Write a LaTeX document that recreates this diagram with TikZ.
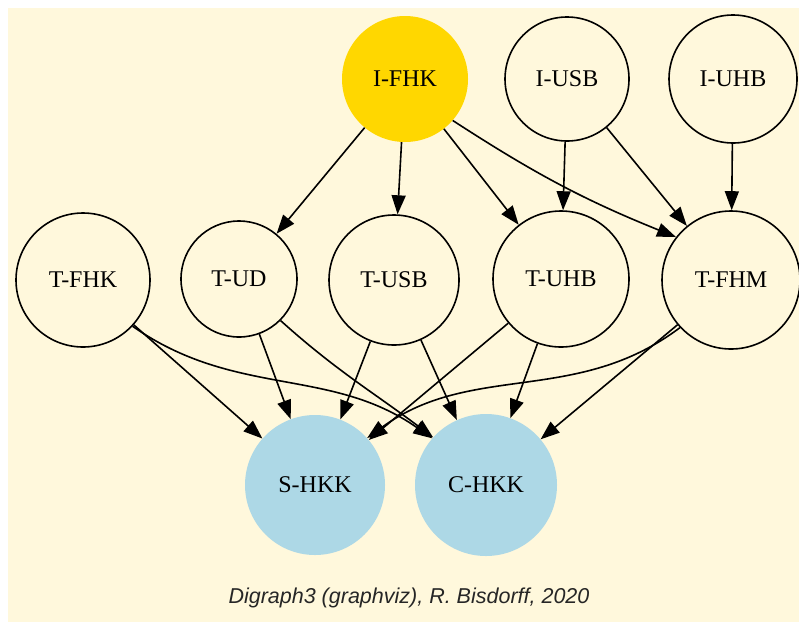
\documentclass[tikz,border=0pt]{standalone}
\usepackage{fontspec}
\setmainfont{Liberation Serif}
\newfontfamily\captionfont{Liberation Sans}
\usetikzlibrary{arrows.meta}
\definecolor{bgcream}{RGB}{255,248,220}
\definecolor{nodegold}{RGB}{255,215,0}
\definecolor{nodeblue}{RGB}{173,216,230}

\begin{document}
\begin{tikzpicture}[x=1pt,y=-1pt,
  vnode/.style={circle, draw=black, line width=1.6pt, inner sep=0pt,
    font=\fontsize{24}{28}\selectfont},
  goldnode/.style={circle, fill=nodegold, inner sep=0pt,
    font=\fontsize{24}{28}\selectfont},
  bluenode/.style={circle, fill=nodeblue, inner sep=0pt,
    font=\fontsize{24}{28}\selectfont},
  link/.style={line width=1.6pt, draw=black,
    -{Triangle[length=19pt,width=14pt]}}
]
% canvas
\useasboundingbox (0,0) rectangle (799,622);
\fill[bgcream] (8,8) rectangle (799,622);

% top row
\node[goldnode, minimum size=126pt] (IFHK) at (405,79) {I-FHK};
\node[vnode, minimum size=124pt] (IUSB) at (567,79) {I-USB};
\node[vnode, minimum size=128pt] (IUHB) at (733,79) {I-UHB};

% middle row
\node[vnode, minimum size=134pt] (TFHK) at (83,280) {T-FHK};
\node[vnode, minimum size=116pt] (TUD)  at (239,279) {T-UD};
\node[vnode, minimum size=130pt] (TUSB) at (394,280) {T-USB};
\node[vnode, minimum size=136pt] (TUHB) at (561,279) {T-UHB};
\node[vnode, minimum size=138pt] (TFHM) at (731,280) {T-FHM};

% bottom row
\node[bluenode, minimum size=140pt] (SHKK) at (315,485) {S-HKK};
\node[bluenode, minimum size=142pt] (CHKK) at (486,485) {C-HKK};

% caption
\node[font=\captionfont\itshape\fontsize{21.5}{25}\selectfont, text=black!85] (cap) at (409,598)
  {Digraph3 (graphviz), R. Bisdorff, 2020};

% arcs from the top row
\draw[link] (IFHK) -- (TUD);
\draw[link] (IFHK) -- (TUSB);
\draw[link] (IFHK) -- (TUHB);
\draw[link] (IFHK.-41) to[out=-33, in=158] (TFHM.142);
\draw[link] (IUSB) -- (TUHB);
\draw[link] (IUSB) -- (TFHM);
\draw[link] (IUHB) -- (TFHM);

% arcs into the bottom row
\draw[link] (TFHK) -- (SHKK);
\draw[link] (TFHK.-43) to[out=-35, in=145] (CHKK.139);
\draw[link] (TUD) -- (SHKK);
\draw[link] (TUD.-45) to[out=-42, in=143] (CHKK.138);
\draw[link] (TUSB) -- (SHKK);
\draw[link] (TUSB) -- (CHKK);
\draw[link] (TUHB) -- (SHKK);
\draw[link] (TUHB) -- (CHKK);
\draw[link] (TFHM.-137) to[out=-143, in=36] (SHKK.42);
\draw[link] (TFHM) -- (CHKK);
\end{tikzpicture}
\end{document}
